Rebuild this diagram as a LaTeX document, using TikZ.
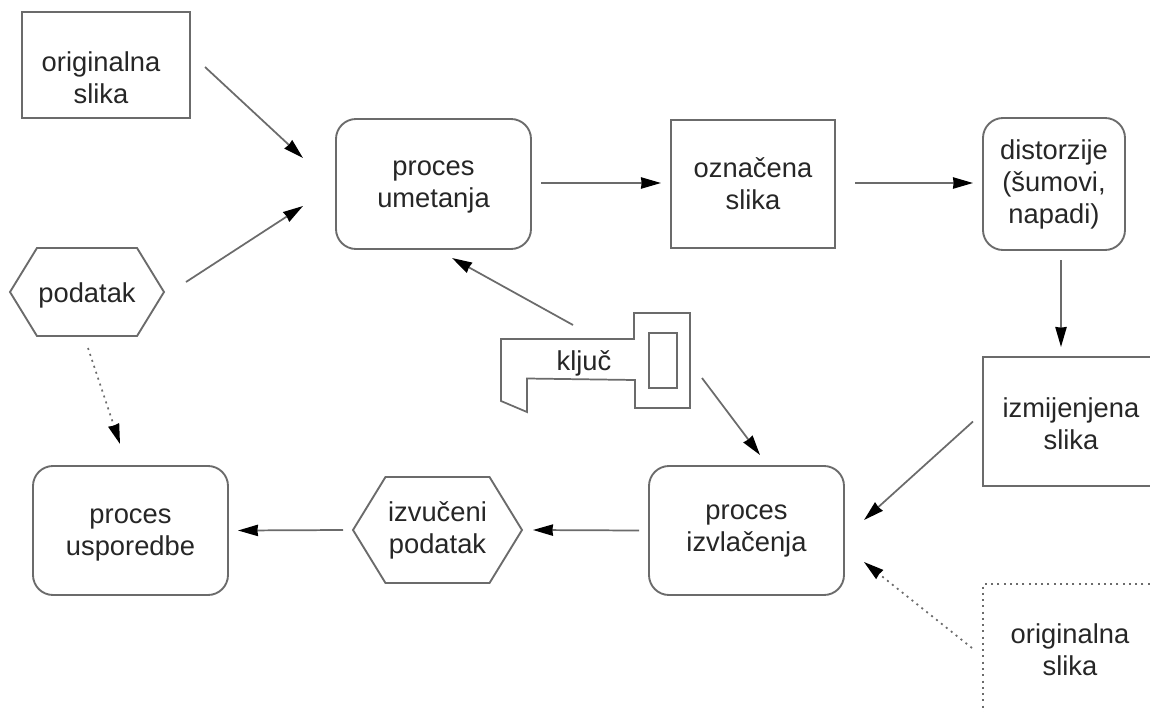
\documentclass[tikz,border=0pt]{standalone}
\usepackage{fontspec}
\setmainfont{Liberation Sans}
\usetikzlibrary{arrows.meta,shapes.symbols}
\definecolor{ln}{gray}{0.42}
\definecolor{tx}{gray}{0.15}
\tikzset{
  lbl/.style={align=center,text=tx,font=\fontsize{20.5}{24}\selectfont,inner sep=0pt,outer sep=0pt},
  sqbox/.style={lbl,draw=ln,line width=1.4pt},
  rndbox/.style={sqbox,rounded corners=15pt},
  dotbox/.style={lbl,draw=ln,line width=1.5pt,dash pattern=on 1.5pt off 3.2pt},
  hexbox/.style={lbl,draw=ln,line width=1.4pt,signal,signal to=west and east,signal pointer angle=117},
  arr/.style={draw=ln,line width=1.3pt,-{Stealth[black,length=15pt,width=8.5pt,inset=0.5pt]}},
  dotarr/.style={arr,dash pattern=on 1.5pt off 3.2pt},
  keyline/.style={draw=ln,line width=1.3pt,line join=miter}
}
\begin{document}
\begin{tikzpicture}[x=0.75pt,y=-0.75pt]
\path[use as bounding box,fill=white] (0,0) rectangle (1150,711);
\clip (0,0) rectangle (1150,711);
% nodes
\node[sqbox,minimum width=126pt,minimum height=79.5pt] (orig) at (106,65) {\rule{0pt}{34.5pt}originalna\hspace*{7.5pt}\\slika\hspace*{7.5pt}};
\node[rndbox,minimum width=146.25pt,minimum height=97.5pt] (umet) at (433.5,184) {\rule{0pt}{16pt}proces\\umetanja};
\node[sqbox,minimum width=123pt,minimum height=96pt] (ozn) at (753,184) {označena\\slika};
\node[rndbox,minimum width=106.5pt,minimum height=99pt] (dist) at (1054,184) {distorzije\\(šumovi,\\napadi)};
\node[sqbox,minimum width=132pt,minimum height=96.75pt] (izm) at (1071,421.5) {\rule{0pt}{17.5pt}izmijenjena\\slika};
\node[dotbox,minimum width=130.5pt,minimum height=99pt] (orig2) at (1070,650) {originalna\\slika};
\node[hexbox,minimum width=115.5pt,minimum height=66pt] (pod) at (87,292) {\rule{0pt}{19.5pt}podatak};
\node[hexbox,minimum width=126.75pt,minimum height=79.5pt] (izv) at (437.5,530) {izvučeni\\podatak};
\node[rndbox,minimum width=146.25pt,minimum height=96.75pt] (usp) at (130.5,530.5) {\rule{0pt}{17pt}proces\\usporedbe};
\node[rndbox,minimum width=146.25pt,minimum height=96.75pt] (izl) at (746.5,530.5) {proces\\izvlačenja};
% key
\draw[keyline] (501,339) -- (634,339) -- (634,313) -- (690,313) -- (690,408) -- (635,408) -- (635,380) -- (527,378.5) -- (527,412) -- (501,401) -- cycle;
\draw[keyline] (649,333) rectangle (677,388);
\node[lbl] (key) at (584,360) {\rule{0pt}{19.5pt}ključ};
% connectors
\draw[arr] ([shift={(15,2)}]orig.east) -- ([shift={(-33,-26)}]umet.west);
\draw[arr] ([shift={(22,-10)}]pod.east) -- ([shift={(-33,22)}]umet.west);
\draw[dotarr] ([shift={(1,12)}]pod.south) -- ([shift={(-10.5,-22)}]usp.north);
\draw[arr] ([shift={(10,-1)}]umet.east) -- ([shift={(-10,-1)}]ozn.west);
\draw[arr] ([shift={(20,-1)}]ozn.east) -- ([shift={(-10,-1)}]dist.west);
\draw[arr] ([shift={(7,10)}]dist.south) -- ([shift={(-10,-10)}]izm.north);
\draw[arr] ([shift={(-10,0)}]izm.west) -- ([shift={(20,-10.5)}]izl.east);
\draw[dotarr] ([shift={(-11,-2)}]orig2.west) -- ([shift={(20,31.5)}]izl.east);
\draw[arr] ([shift={(-10,0)}]izl.west) -- ([shift={(11,0)}]izv.east);
\draw[arr] ([shift={(-10,0)}]izv.west) -- ([shift={(10,0)}]usp.east);
\draw[arr] ([shift={(-11,-35)}]key.center) -- ([shift={(18.5,9)}]umet.south);
\draw[arr] ([shift={(118,18)}]key.center) -- ([shift={(13.5,-11)}]izl.north);
\end{tikzpicture}
\end{document}
